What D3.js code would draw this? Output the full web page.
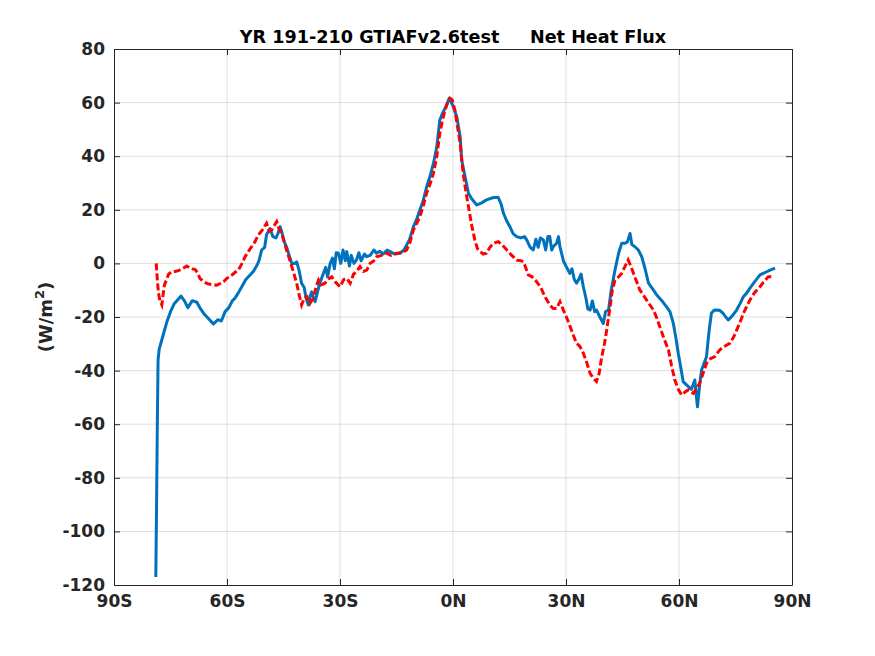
<!DOCTYPE html>
<html>
<head>
<meta charset="utf-8">
<script src="https://cdn.jsdelivr.net/npm/d3@7"></script>
<style>
  body { margin: 0; background: #fff; }
  text { font-family: "DejaVu Sans", sans-serif; font-weight: bold; fill: #262626; }
</style>
</head>
<body>
<svg id="chart" width="875" height="656"></svg>
<script>
// Zonal mean net heat flux (W/m^2)
const blueLat = [-78.9, -78.7, -78.5, -78.3, -78, -77, -76, -75, -74, -73, -72.2, -71.3, -70.4, -69.2, -68, -67, -66, -65, -64, -63.6, -62.4, -61.5, -60.5, -59.5, -58.6, -57.9, -57, -56, -55, -54, -53, -52, -51.5, -50.8, -50, -49.5, -48.6, -47.8, -47, -46.5, -45.9, -45.5, -44.8, -44.2, -43.5, -42.8, -41.9, -41.5, -40.8, -40.2, -39.5, -39, -38.4, -37.9, -37.5, -37, -36.6, -35.5, -34.4, -33.8, -33.3, -32.6, -32, -31.5, -31, -30.4, -29.8, -29.2, -28.6, -28.2, -27.5, -27, -26.3, -25.6, -25, -24.4, -23.5, -22.9, -22, -21, -20.3, -19.5, -18.5, -17.5, -16.7, -15.5, -14.1, -13, -12.3, -11.5, -10.5, -9.5, -8.8, -8, -7, -6, -5.2, -4.3, -3.5, -2.8, -2.1, -1, -0.1, 1, 1.9, 2.3, 3.2, 4.1, 5, 6.3, 7.5, 8.9, 10.5, 12, 12.8, 13.4, 14.2, 15.1, 16, 16.9, 18, 19, 19.6, 20.5, 21.3, 22, 22.6, 23.2, 24, 24.6, 25.2, 25.7, 26.2, 26.6, 27.5, 28, 28.4, 29.3, 30, 31, 31.6, 32.2, 32.8, 33.3, 34, 34.6, 35.3, 35.8, 36.4, 37, 37.6, 38.1, 39, 39.9, 40.5, 41.3, 42, 43, 44, 44.8, 45.6, 46.3, 47, 47.5, 48.3, 49.2, 50.1, 51, 51.9, 53, 54.1, 55.5, 56.7, 57.6, 58.5, 59.2, 59.8, 60.5, 61.1, 62.5, 63.3, 64.2, 64.9, 65.5, 66, 67.3, 68, 68.6, 69.3, 69.9, 70.8, 71.7, 72.4, 73.1, 74.2, 75.3, 76.2, 77.1, 78, 78.8, 80, 81.5, 83, 84.2, 85.5];
const blueVal = [-117, -90, -60, -36, -32, -27, -22, -18, -15, -13.5, -12.2, -14, -16.5, -13.9, -14.5, -17, -19, -20.5, -22, -22.6, -21, -21.5, -18, -16.5, -14, -13, -11, -8.5, -6, -4.5, -3, -0.6, 1, 5, 6, 10.7, 13, 10, 9.5, 11, 13.7, 12, 8, 6.2, 3, 0, 0, 0.6, -3, -7.4, -9, -13, -15.5, -12, -10.6, -13, -14.3, -8, -3.7, -1.5, -5, 0, 2, -2, 4, 3.8, 0, 5, 1, 4.4, -1, 3, 0, 1.3, 4, 1, 3.5, 2.5, 3, 5, 3.8, 4.5, 3.5, 5, 4.4, 3.5, 3.8, 5, 6.9, 9, 13.7, 17, 19.9, 23, 28.6, 33, 37.3, 43.5, 53.5, 56, 57.9, 61.6, 59.1, 54.7, 47.3, 38.6, 32.4, 26.2, 24, 21.8, 22.5, 23.7, 24.5, 24.7, 22, 18.7, 16, 13.7, 11, 10, 9.5, 10, 8.7, 6, 5, 9, 6, 9.5, 8.7, 5, 10, 10, 5, 6.2, 7.5, 10, 6.2, 1, -1, -3.7, -2, -6, -7.4, -6.2, -4, -8.7, -13, -17, -17.4, -14, -18, -17.4, -20, -22.4, -18, -17.4, -10, -2.5, 4, 7.5, 7.5, 8, 11.2, 7, 6.2, 5, 2.5, -2, -7.4, -9.5, -11.8, -14, -16.2, -18, -22.4, -28, -33.5, -39, -44.1, -46, -47, -43.5, -53.5, -45, -39.8, -34.8, -25, -18.6, -17.5, -17.4, -17.5, -18.6, -20, -21.1, -19.5, -17.4, -15, -12.4, -11, -9.3, -7, -4.3, -3.3, -2.5, -1.8];

const redLat = [-78.8, -78.5, -78.2, -77.8, -77.3, -77, -76.6, -76.1, -75.5, -74.7, -73.8, -72.9, -71.8, -70.7, -69.6, -68.5, -67.8, -67.2, -66, -64.9, -63.8, -62.7, -61.8, -60.9, -60, -59.2, -58, -57, -56, -55.2, -54.3, -53.5, -52.6, -51.7, -50.6, -49.5, -48.8, -48.1, -47.5, -46.8, -46.2, -45.5, -44.8, -44.2, -43.5, -42.8, -42.2, -41.5, -40.8, -40.2, -39.5, -38.8, -38, -37.1, -36.4, -35.7, -35, -34, -33.2, -32.2, -31.2, -30, -29, -28.2, -27.3, -26.4, -25.6, -24.7, -23.8, -22.9, -22, -21, -20.3, -19, -17.6, -16.5, -15, -13.5, -12.3, -11.4, -10.5, -9.6, -8.8, -8, -7, -6, -5.2, -4.3, -3.5, -2.8, -2.1, -1.4, -0.8, -0.2, 0.5, 1.2, 1.9, 2.7, 3.4, 4.1, 5, 5.8, 6.5, 7.2, 8, 8.9, 9.8, 10.7, 12, 13, 14.3, 15.6, 16.9, 18, 18.7, 19.4, 20, 21, 22.2, 23.3, 24.4, 25.7, 26.6, 27.5, 28.4, 29.3, 29.7, 30.4, 31.1, 32, 32.8, 33.7, 34.6, 35.5, 36.4, 37.3, 38.1, 38.8, 39.5, 40.2, 40.8, 41.7, 42.3, 43, 44, 44.8, 45.7, 46.5, 47.2, 47.9, 48.8, 49.6, 51.4, 53.2, 54, 54.9, 56, 57.2, 58, 58.9, 59.8, 60.7, 61.6, 62.5, 63.2, 63.8, 64.7, 65.5, 66.4, 67.3, 68.4, 69.5, 70.8, 72, 73.5, 74.5, 75.3, 76.2, 77.1, 78, 78.8, 80, 81.5, 82.7, 83.7, 85.2];
const redVal = [0, -6, -11, -14, -15.5, -12, -8, -6.2, -4, -3.1, -3, -2.7, -2, -1, -2, -2.2, -3.5, -5.6, -7, -7.7, -8, -8.1, -7.5, -6.8, -5.5, -5, -3.5, -2.5, 0, 2.5, 4.5, 6.2, 8, 10.6, 12.5, 15, 12, 12.5, 14, 15.6, 13, 11.2, 8, 5, 2, -1.2, -4, -7.4, -12, -15.5, -13, -12.4, -15, -13, -9, -6.2, -8, -7.4, -6, -5, -7, -8.7, -6, -5.6, -7.4, -4, -3, -1.2, -3, -2.5, 0, 1, 2.5, 3, 3.8, 3, 3.8, 4, 5, 8, 12.5, 15, 17.4, 21, 26.2, 30, 33.6, 40, 48.5, 53.5, 57.2, 60, 61.6, 61, 57.2, 51, 44.8, 33.6, 27, 21.2, 14, 8.7, 5.5, 4.4, 3.5, 3.8, 6, 7.5, 8.1, 7, 5, 3, 1.2, 1, 0.6, -2, -4.3, -5, -6.8, -9, -12.4, -15.5, -16.8, -16.8, -14.3, -17.4, -18.6, -21, -23.6, -27, -29.8, -31, -33.5, -37, -41, -43, -44.1, -41, -34.8, -30, -24.9, -16.2, -10, -6.2, -5, -3.7, -1, 1.3, -1, -3.7, -7, -9.9, -13.7, -17.4, -20, -23.6, -28, -32.3, -38, -43.5, -47, -49.1, -48, -47.2, -48, -48.5, -46.5, -44.7, -41, -37.3, -35.5, -34.8, -32.3, -31, -29.8, -27.5, -24.9, -22, -18.6, -16, -13.7, -11, -8.7, -6.5, -5, -5];

const xTicks = [-90, -60, -30, 0, 30, 60, 90];
const xTickLabels = ["90S", "60S", "30S", "0N", "30N", "60N", "90N"];
const yTicks = [-120, -100, -80, -60, -40, -20, 0, 20, 40, 60, 80];
const title = "YR 191-210 GTIAFv2.6test     Net Heat Flux";

const margin = {top: 49, right: 83, bottom: 71, left: 114};
const W = 875, H = 656;
const width = W - margin.left - margin.right;
const height = H - margin.top - margin.bottom;

const svg = d3.select("#chart");
const g = svg.append("g").attr("transform", `translate(${margin.left},${margin.top})`);

const x = d3.scaleLinear().domain([-90, 90]).range([0, width]);
const y = d3.scaleLinear().domain([-120, 80]).range([height, 0]);

// grid
g.append("g").selectAll("line").data(xTicks.slice(1, -1)).join("line")
    .attr("x1", d => x(d)).attr("x2", d => x(d))
    .attr("y1", 0).attr("y2", height)
    .attr("stroke", "#262626").attr("stroke-opacity", 0.15).attr("stroke-width", 1);
g.append("g").selectAll("line").data(yTicks.slice(1, -1)).join("line")
    .attr("y1", d => y(d)).attr("y2", d => y(d))
    .attr("x1", 0).attr("x2", width)
    .attr("stroke", "#262626").attr("stroke-opacity", 0.15).attr("stroke-width", 1);

g.append("clipPath").attr("id", "plotclip")
    .append("rect").attr("width", width).attr("height", height);

const line = d3.line().x(d => x(d[0])).y(d => y(d[1]));
const lines = g.append("g").attr("clip-path", "url(#plotclip)");

lines.append("path")
    .datum(d3.zip(blueLat, blueVal))
    .attr("fill", "none")
    .attr("stroke", "#0072BD")
    .attr("stroke-width", 3)
    .attr("stroke-linejoin", "round")
    .attr("d", line);

lines.append("path")
    .datum(d3.zip(redLat, redVal))
    .attr("fill", "none")
    .attr("stroke", "#FF0000")
    .attr("stroke-width", 3)
    .attr("stroke-dasharray", "7,3")
    .attr("d", line);

// axes, MATLAB style: ticks inside, box
const tickLen = 6;
const xAxis = d3.axisBottom(x).tickValues(xTicks)
    .tickFormat((d, i) => xTickLabels[i]).tickSizeInner(-tickLen).tickSizeOuter(0).tickPadding(10);
const yAxis = d3.axisLeft(y).tickValues(yTicks).tickFormat(d => String(d))
    .tickSizeInner(-tickLen).tickSizeOuter(0).tickPadding(9);

const gx = g.append("g").attr("transform", `translate(0,${height})`).call(xAxis);
const gy = g.append("g").call(yAxis);
const gxTop = g.append("g").call(d3.axisTop(x).tickValues(xTicks).tickFormat("").tickSizeInner(-tickLen).tickSizeOuter(0));
const gyRight = g.append("g").attr("transform", `translate(${width},0)`)
    .call(d3.axisRight(y).tickValues(yTicks).tickFormat("").tickSizeInner(-tickLen).tickSizeOuter(0));

[gx, gy, gxTop, gyRight].forEach(a => {
    a.select(".domain").attr("stroke", "#262626").attr("stroke-width", 1);
    a.selectAll(".tick line").attr("stroke", "#262626");
    a.selectAll("text").style("font-size", "17px").style("font-family", "DejaVu Sans").style("font-weight", "bold").attr("fill", "#262626");
});

// title
svg.append("text")
    .attr("x", margin.left + width / 2)
    .attr("y", 43)
    .attr("text-anchor", "middle")
    .style("font-size", "17.6px")
    .style("fill", "#000")
    .style("white-space", "pre")
    .attr("xml:space", "preserve")
    .text(title);

// y label
const yl = svg.append("text")
    .attr("transform", `translate(52,${margin.top + height / 2}) rotate(-90)`)
    .attr("text-anchor", "middle")
    .style("font-size", "18px");
yl.append("tspan").text("(W/m");
yl.append("tspan").attr("dy", -8).style("font-size", "13px").text("2");
yl.append("tspan").attr("dy", 8).text(")");
</script>
</body>
</html>
